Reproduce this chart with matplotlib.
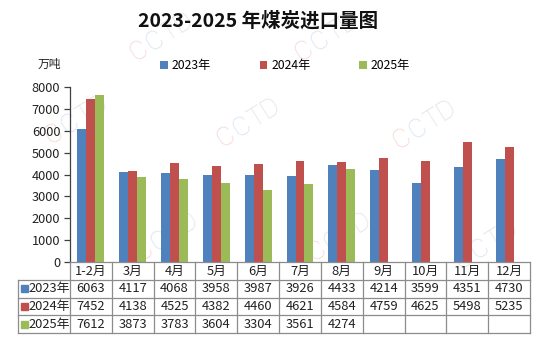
import matplotlib
matplotlib.use("Agg")

import matplotlib.pyplot as plt
import numpy as np
from matplotlib.patches import Rectangle

plt.rcParams["font.family"] = ["Noto Sans CJK SC", "DejaVu Sans"]

# monthly coal imports, 10k tonnes
months = ["1-2月", "3月", "4月", "5月", "6月", "7月", "8月", "9月", "10月", "11月", "12月"]
years = ["2023年", "2024年", "2025年"]
imports_2023 = [6063, 4117, 4068, 3958, 3987, 3926, 4433, 4214, 3599, 4351, 4730]
imports_2024 = [7452, 4138, 4525, 4382, 4460, 4621, 4584, 4759, 4625, 5498, 5235]
imports_2025 = [7612, 3873, 3783, 3604, 3304, 3561, 4274]
colors = ["#4F81BD", "#C0504D", "#9BBB59"]

W, H = 550, 348
fig = plt.figure(figsize=(W / 100, H / 100), dpi=100)


def fx(px):
    return px / W


def fy(py):
    return 1 - py / H


# faint CCTD watermark grid
def watermark(x, y, size=19):
    ang = np.deg2rad(32)
    parts = [("C", "#f6d2d2", 0), ("C", "#d3e1f4", 19), ("TD", "#e2e2e2", 38)]
    for s, c, off in parts:
        fig.text(fx(x + off * np.cos(ang)), fy(y - off * np.sin(ang)), s,
                 fontsize=size, color=c, rotation=32, rotation_mode="anchor",
                 ha="left", va="baseline", zorder=-5,
                 family=["Roboto", "DejaVu Sans"], fontweight="light")


for wx, wy in [(135, 62), (300, 62),
               (50, 145), (222, 148), (398, 150),
               (140, 262), (313, 262), (460, 270)]:
    watermark(wx, wy)

# main bar axes
ax = fig.add_axes([fx(70), fy(262), fx(460), fy(87) - fy(262)])
ax.set_facecolor("none")
n = len(months)
x = np.arange(n)
bw = 0.215
series = [imports_2023, imports_2024, imports_2025]
for i, vals in enumerate(series):
    ax.bar(x[:len(vals)] + (i - 1) * bw, vals, width=bw, color=colors[i],
           label=years[i], zorder=2)

ax.set_xlim(-0.5, n - 0.5)
ax.set_ylim(0, 8000)
ax.set_yticks(np.arange(0, 8001, 1000))
ax.set_xticks([])
for side in ["top", "right", "bottom"]:
    ax.spines[side].set_visible(False)
ax.spines["left"].set_color("#404040")
ax.spines["left"].set_linewidth(0.9)
ax.tick_params(axis="y", direction="out", length=4, width=0.9, color="#404040",
               labelsize=9.2, labelcolor="#222222", pad=3)

fig.text(fx(49), fy(64), "万吨", fontsize=8.5, color="#222222", ha="center", va="center")
fig.text(fx(258), fy(21), "2023-2025 年煤炭进口量图", fontsize=14, fontweight="bold",
         color="#111111", ha="center", va="center")

fig.legend(loc="center", bbox_to_anchor=(fx(285), fy(66)), ncol=3, frameon=False,
           fontsize=8.8, handlelength=0.65, handleheight=0.65, handletextpad=0.3,
           columnspacing=4.0, borderaxespad=0)

# data table beneath the bars
tax = fig.add_axes([fx(70), fy(333), fx(460), fy(262) - fy(333)], sharex=ax)
tax.set_ylim(4, 0)
tax.axis("off")
line = dict(color="#8c8c8c", linewidth=0.9, clip_on=False)
left = -0.5 - 52 / 41.8
tax.plot([-0.5, n - 0.5], [0, 0], **line)
for r in range(1, 5):
    tax.plot([left, n - 0.5], [r, r], **line)
for c in range(n + 1):
    tax.plot([c - 0.5, c - 0.5], [0, 4], **line)
tax.plot([left, left], [1, 4], **line)

fs = 9.3
for j, m in enumerate(months):
    tax.text(j, 0.52, m, ha="center", va="center", fontsize=fs, color="#222222")
for i, vals in enumerate(series):
    row = i + 1.52
    tax.add_patch(Rectangle((left + 0.08, i + 1.32), 0.15, 0.38, color=colors[i],
                            clip_on=False))
    tax.text(left + 0.24, row, years[i], ha="left", va="center", fontsize=fs,
             color="#222222")
    for j, v in enumerate(vals):
        tax.text(j, row, str(v), ha="center", va="center", fontsize=fs, color="#222222")

fig.savefig("out.png", dpi=100, facecolor="white")
